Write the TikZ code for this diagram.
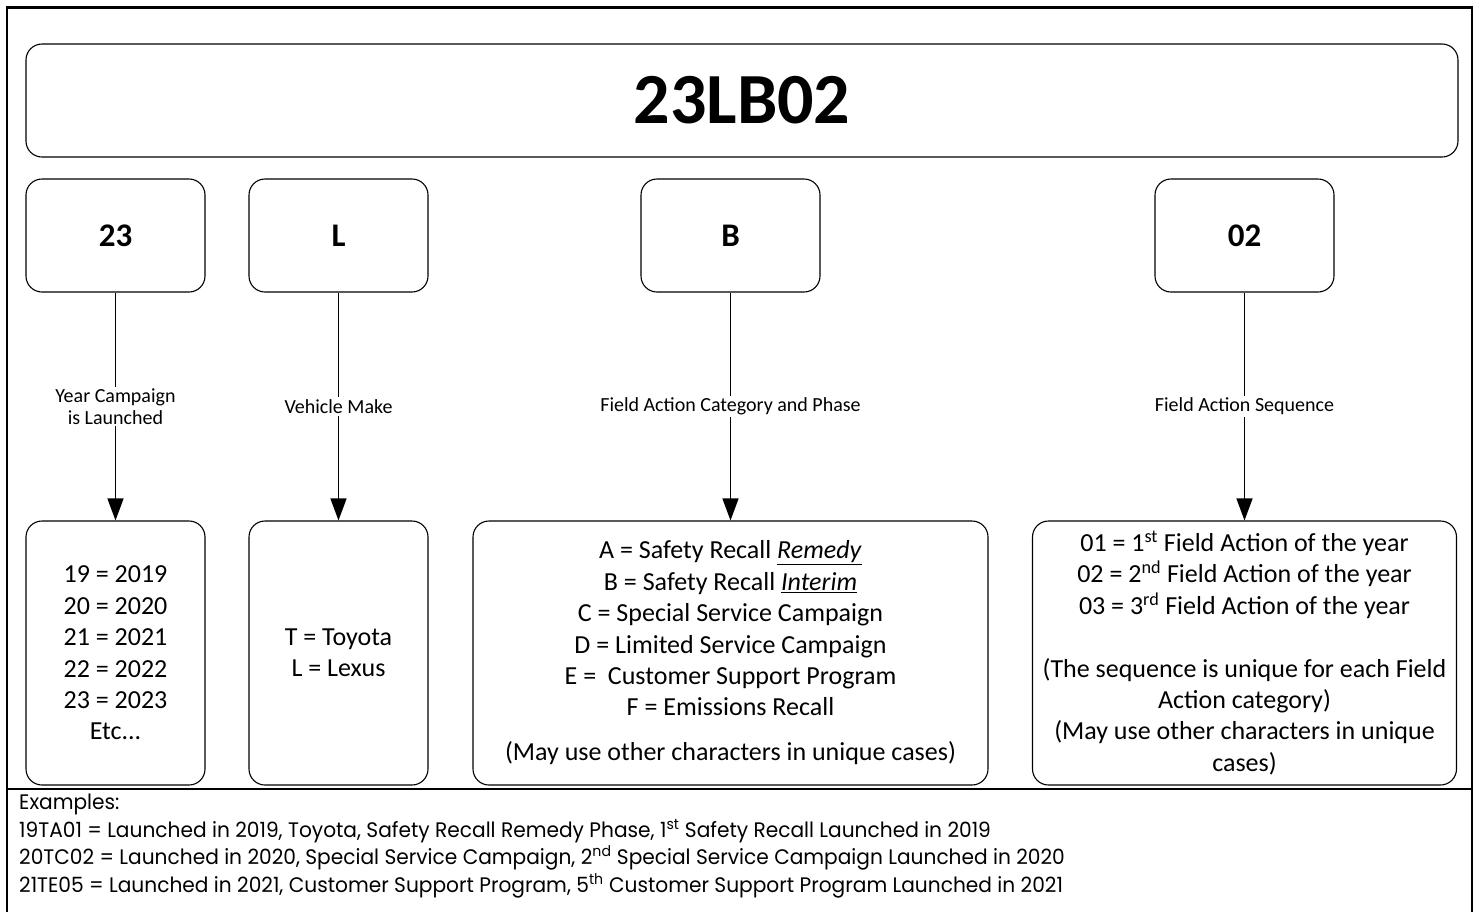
\documentclass[tikz,border=0pt]{standalone}
\usepackage{fontspec}
\setmainfont{Carlito}
\newfontfamily\exfont[FakeStretch=0.96]{Poppins}
\usetikzlibrary{arrows.meta}
\begin{document}
\begin{tikzpicture}[x=1pt,y=-1pt,
  box/.style={draw, rounded corners=16pt, line width=1.1pt, inner sep=0pt, align=center},
  hdr/.style={box, minimum width=179pt, minimum height=113pt, font=\fontsize{33}{40}\selectfont\bfseries},
  val/.style={box, minimum height=264pt, font=\fontsize{26}{31.4}\selectfont},
  lbl/.style={fill=white, font=\fontsize{20}{22}\selectfont, align=center, inner sep=2pt},
  conn/.style={line width=1.4pt, -{Triangle[length=22pt,width=16pt]}},
  frame/.style={line width=2.5pt},
  ex/.style={anchor=base west, inner sep=0pt, font=\exfont\fontsize{21}{24}\selectfont}]
\useasboundingbox (0,0) rectangle (1478,911);
% outer frame and separator
\draw[frame] (7,930) -- (7,7.5) -- (1472,7.5) -- (1472,930);
\draw[frame] (7,789) -- (1472,789);
% title
\node[box, minimum width=1432pt, minimum height=113pt, font=\fontsize{72}{80}\selectfont\bfseries] (title) at (742,100.5) {23LB02};
% header boxes
\node[hdr] (h1) at (115.5,235.5) {23};
\node[hdr] (h2) at (338.5,235.5) {L};
\node[hdr] (h3) at (730.5,235.5) {B};
\node[hdr] (h4) at (1244.5,235.5) {02};
% value boxes
\node[val, minimum width=179pt] (v1) at (115.5,653) {19 = 2019\\20 = 2020\\21 = 2021\\22 = 2022\\23 = 2023\\Etc...};
\node[val, minimum width=179pt] (v2) at (338.5,653) {T = Toyota\\L = Lexus};
\node[val, minimum width=515pt] (v3) at (730.5,653) {A = Safety Recall \underline{\textit{Remedy}}\\B = Safety Recall \underline{\textit{Interim}}\\C = Special Service Campaign\\D = Limited Service Campaign\\E =\ \ Customer Support Program\\F = Emissions Recall\\[13.6pt](May use other characters in unique cases)};
\node[val, minimum width=424pt] (v4) at (1244.5,653) {01 = 1\textsuperscript{st} Field Action of the year\\02 = 2\textsuperscript{nd} Field Action of the year\\03 = 3\textsuperscript{rd} Field Action of the year\\[31.4pt](The sequence is unique for each Field\\Action category)\\(May use other characters in unique\\cases)};
% connectors
\draw[conn] (h1) -- node[lbl] {Year Campaign\\is Launched} (v1);
\draw[conn] (h2) -- node[lbl] {Vehicle Make} (v2);
\draw[conn] (h3) -- node[lbl] {Field Action Category and Phase} (v3);
\draw[conn] (h4) -- node[lbl] {Field Action Sequence} (v4);
% examples
\node[ex] (e0) at (19,809) {Examples:};
\node[ex] (e1) at (19,837) {19TA01 = Launched in 2019, Toyota, Safety Recall Remedy Phase, 1\textsuperscript{st} Safety Recall Launched in 2019};
\node[ex] (e2) at (19,864) {20TC02 = Launched in 2020, Special Service Campaign, 2\textsuperscript{nd} Special Service Campaign Launched in 2020};
\node[ex] (e3) at (19,892) {21TE05 = Launched in 2021, Customer Support Program, 5\textsuperscript{th} Customer Support Program Launched in 2021};
\end{tikzpicture}
\end{document}
